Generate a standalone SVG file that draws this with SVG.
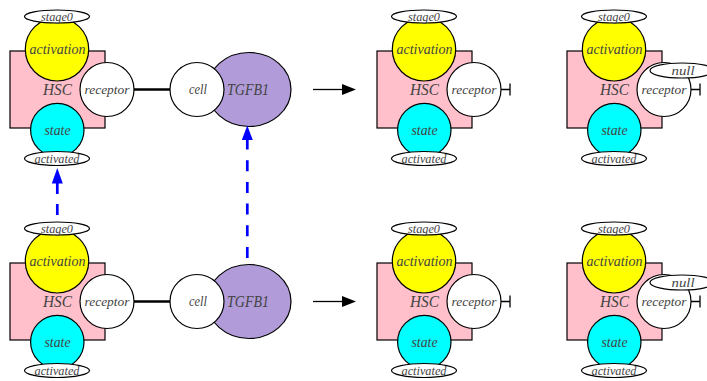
<svg xmlns="http://www.w3.org/2000/svg" width="707" height="381" viewBox="0 0 707 381">
<style>
.s{stroke:#000;stroke-width:1.2}
.hsc{fill:#ffc0cb}
.act{fill:#ffff00}
.st{fill:#00ffff}
.w{fill:#fff}
.tg{fill:#b19cd9}
.lbl{font-style:italic;fill:#444;text-anchor:middle}
.t13{font-size:14px}
.t12{font-size:13px}
.t16{font-size:17px}
.t15{font-size:16px}
.dash{stroke:#0000ff;stroke-width:2.7;fill:none}
.blk{stroke:#000;stroke-width:1.3;fill:none}
</style>
<defs>
<g id="cplx" font-family="Liberation Serif, DejaVu Serif, serif">
<rect class="hsc s" x="10" y="51" width="95" height="77"/>
<circle class="act s" cx="57" cy="49.3" r="31.7"/>
<ellipse class="w s" cx="57" cy="16.5" rx="32.5" ry="6.5"/>
<circle class="st s" cx="57.3" cy="130" r="26.7"/>
<ellipse class="w s" cx="57" cy="158.5" rx="32.5" ry="7"/>
<circle class="w s" cx="107" cy="89.5" r="27"/>
<text class="lbl t16" x="57.5" y="95" textLength="29" lengthAdjust="spacingAndGlyphs">HSC</text>
<text class="lbl t13" x="57.5" y="53.5" textLength="56" lengthAdjust="spacingAndGlyphs">activation</text>
<text class="lbl t12" x="57" y="20.5" textLength="32" lengthAdjust="spacingAndGlyphs">stage0</text>
<text class="lbl t13" x="57.5" y="134.5" textLength="26" lengthAdjust="spacingAndGlyphs">state</text>
<text class="lbl t12" x="57" y="162.5" textLength="45" lengthAdjust="spacingAndGlyphs">activated</text>
<text class="lbl t12" x="107" y="93.5" textLength="45" lengthAdjust="spacingAndGlyphs">receptor</text>
</g>
<g id="lig" font-family="Liberation Serif, DejaVu Serif, serif">
<ellipse class="tg s" cx="249" cy="89.5" rx="42" ry="37"/>
<circle class="w s" cx="197" cy="89.5" r="27"/>
<text class="lbl t15" x="248" y="95" textLength="42" lengthAdjust="spacingAndGlyphs">TGFB1</text>
<text class="lbl t13" x="198" y="94" textLength="18" lengthAdjust="spacingAndGlyphs">cell</text>
</g>
</defs>
<g id="top-left-complex"><use href="#cplx"/></g>
<g id="top-ligand"><use href="#lig"/></g>
<g id="bottom-left-complex"><use href="#cplx" transform="translate(0,212)"/></g>
<g id="bottom-ligand"><use href="#lig" transform="translate(0,212)"/></g>
<g id="top-middle-complex"><use href="#cplx" transform="translate(367,0)"/></g>
<g id="bottom-middle-complex"><use href="#cplx" transform="translate(367,212)"/></g>
<g id="top-right-complex" font-family="Liberation Serif, DejaVu Serif, serif"><use href="#cplx" transform="translate(557,0)"/>
<ellipse class="w s" cx="682" cy="70.5" rx="32" ry="7.5"/>
<text class="lbl t12" x="683" y="74.5" textLength="23" lengthAdjust="spacingAndGlyphs">null</text>
</g>
<g id="bottom-right-complex" font-family="Liberation Serif, DejaVu Serif, serif"><use href="#cplx" transform="translate(557,212)"/>
<ellipse class="w s" cx="682" cy="282.5" rx="32" ry="7.5"/>
<text class="lbl t12" x="683" y="286.5" textLength="23" lengthAdjust="spacingAndGlyphs">null</text>
</g>
<g id="connectors">
<line x1="134" y1="89.5" x2="170" y2="89.5" stroke="#000" stroke-width="2.5"/>
<line x1="134" y1="301.5" x2="170" y2="301.5" stroke="#000" stroke-width="2.5"/>
<line class="dash" x1="57.3" y1="215" x2="57.3" y2="183" stroke-dasharray="11 10"/>
<polygon points="57.3,168 51.8,183.5 62.8,183.5" fill="#0000ff"/>
<line class="dash" x1="247.3" y1="258" x2="247.3" y2="139.5" stroke-dasharray="11 10.7"/>
<polygon points="247.3,125.5 241.8,140 252.8,140" fill="#0000ff"/>
<line class="blk" x1="313" y1="89.5" x2="343" y2="89.5"/>
<polygon points="356,89.5 342,84 342,95" fill="#000"/>
<line class="blk" x1="313" y1="301.5" x2="343" y2="301.5"/>
<polygon points="356,301.5 342,296 342,307" fill="#000"/>
<path class="blk" d="M501,89.5H510M510,83.5V95.5"/>
<path class="blk" d="M501,301.5H510M510,295.5V307.5"/>
<path class="blk" d="M691,89.5H700M700,83.5V95.5"/>
<path class="blk" d="M691,301.5H700M700,295.5V307.5"/>
</g>
</svg>
